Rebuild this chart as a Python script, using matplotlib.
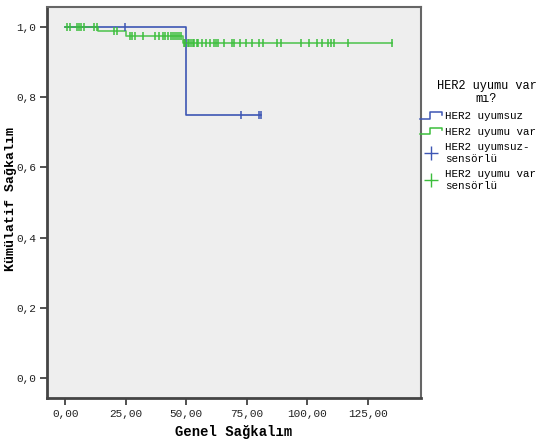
import matplotlib
matplotlib.use("Agg")
import matplotlib.pyplot as plt
from matplotlib.lines import Line2D
from matplotlib.legend_handler import HandlerBase
from matplotlib.ticker import FuncFormatter

# Kaplan-Meier step data (time, cumulative survival)
uyumsuz_times = [0.0, 49.8, 81.0]
uyumsuz_surv = [1.0, 0.75, 0.75]
uyumsuz_censor_t = [24.6, 72.7, 80.1, 81.0]
uyumsuz_censor_s = [1.0, 0.75, 0.75, 0.75]

var_times = [0.0, 13.4, 25.2, 48.6, 135.0]
var_surv = [1.0, 0.989, 0.975, 0.955, 0.955]
var_censor_t = [0.8, 1.9, 5.0, 5.8, 6.6, 7.8, 11.9, 13.0,
                20.2, 21.3,
                26.6, 27.7, 28.7, 32.0, 37.0, 38.6, 40.3, 41.4, 42.5, 43.6,
                44.4, 45.3, 46.1, 46.9, 47.8,
                49.0, 49.4, 50.7, 51.1, 51.9, 52.7, 53.2, 54.4, 54.8, 56.5,
                58.1, 59.8, 61.5, 62.3, 63.1, 65.6, 68.9, 69.8, 72.3, 74.8,
                77.2, 80.1, 81.8, 87.6, 89.3, 97.6, 100.9, 104.2, 105.9,
                108.4, 110.0, 110.9, 116.7, 135.0]

x_ticks = [0, 25, 50, 75, 100, 125]
y_ticks = [0.0, 0.2, 0.4, 0.6, 0.8, 1.0]

BLUE = "#3d56b4"
GREEN = "#3cbe3c"
MONO = "Liberation Mono"


def level_at(t, times, surv):
    s = surv[0]
    for ti, si in zip(times, surv):
        if t >= ti:
            s = si
    return s


fig = plt.figure(figsize=(5.39, 4.41), dpi=100)
ax = fig.add_axes([0.0872, 0.0975, 0.694, 0.887])
ax.set_facecolor("#eeeeee")

ax.step(uyumsuz_times, uyumsuz_surv, where="post", color=BLUE, lw=1.2)
ax.step(var_times, var_surv, where="post", color=GREEN, lw=1.2, alpha=0.85)

var_censor_s = [level_at(t, var_times, var_surv) for t in var_censor_t]
ax.plot(var_censor_t, var_censor_s, ls="none", marker="|", ms=6, mew=1.1,
        color=GREEN)
ax.plot(uyumsuz_censor_t, uyumsuz_censor_s, ls="none", marker="|", ms=6,
        mew=1.1, color=BLUE)

ax.set_xlim(-7.5, 147)
ax.set_ylim(-0.057, 1.057)
ax.set_xticks(x_ticks)
ax.set_yticks(y_ticks)
ax.xaxis.set_major_formatter(FuncFormatter(lambda v, p: f"{v:.2f}".replace(".", ",")))
ax.yaxis.set_major_formatter(FuncFormatter(lambda v, p: f"{v:.1f}".replace(".", ",")))
ax.tick_params(axis="both", direction="out", length=5, width=1.2,
               color="#333333", labelsize=8, labelcolor="#222222", pad=3)
for lab in ax.get_xticklabels() + ax.get_yticklabels():
    lab.set_family(MONO)

for side in ["left", "bottom"]:
    ax.spines[side].set_linewidth(2.0)
    ax.spines[side].set_color("#444444")
for side in ["top", "right"]:
    ax.spines[side].set_linewidth(1.5)
    ax.spines[side].set_color("#666666")

ax.set_xlabel("Genel Sağkalım", family=MONO, fontsize=10, fontweight="bold",
              va="center")
ax.xaxis.set_label_coords(0.5, -0.088)
ax.set_ylabel("Kümülatif Sağkalım", family=MONO, fontsize=9.5,
              fontweight="bold", va="center")
ax.yaxis.set_label_coords(-0.095, 0.51)


class StepHandler(HandlerBase):
    def __init__(self, color):
        super().__init__()
        self.color = color

    def create_artists(self, legend, orig_handle, xdescent, ydescent,
                       width, height, fontsize, trans):
        xs = [0, width * 0.45, width * 0.45, width, width]
        ys = [height * 0.05, height * 0.05, height * 0.95, height * 0.95,
              height * 0.6]
        ln = Line2D([x - xdescent for x in xs], [y - ydescent for y in ys],
                    color=self.color, lw=1.1, transform=trans)
        return [ln]


h1 = Line2D([], [], color=BLUE)
h2 = Line2D([], [], color=GREEN)
h3 = Line2D([], [], ls="none", marker="+", ms=10, mew=1.0, color=BLUE)
h4 = Line2D([], [], ls="none", marker="+", ms=10, mew=1.0, color=GREEN)

leg = fig.legend([h1, h2, h3, h4],
                 ["HER2 uyumsuz", "HER2 uyumu var",
                  "HER2 uyumsuz-\nsensörlü", "HER2 uyumu var\nsensörlü"],
                 handler_map={h1: StepHandler(BLUE), h2: StepHandler(GREEN)},
                 title="HER2 uyumu var\nmı?",
                 loc="upper left", bbox_to_anchor=(0.776, 0.824),
                 frameon=False, prop={"family": MONO, "size": 7.8},
                 title_fontproperties={"family": MONO, "size": 8.6},
                 handlelength=2.0, handletextpad=0.3, labelspacing=0.5,
                 borderaxespad=0, borderpad=0.2)
leg.get_title().set_multialignment("center")
leg.get_title().set_linespacing(1.08)
leg._legend_box.align = "right"
leg._legend_box.sep = 5

fig.savefig("out.png", dpi=100, facecolor="white")
